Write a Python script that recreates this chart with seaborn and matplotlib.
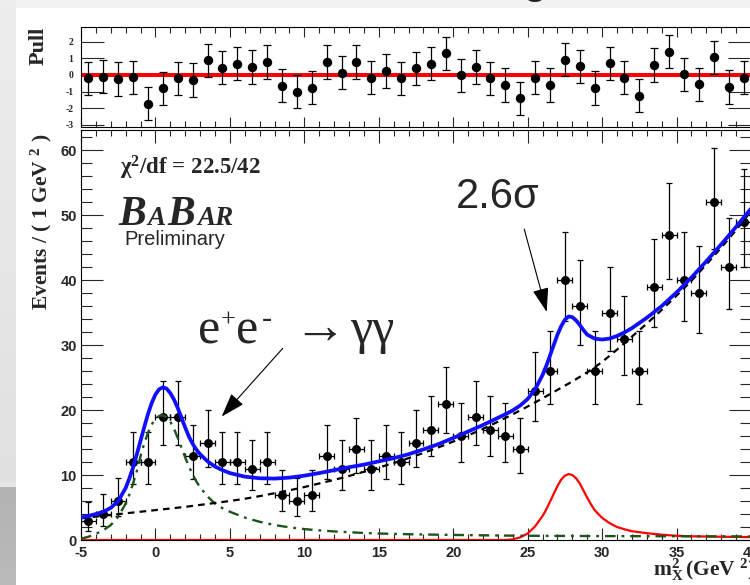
import numpy as np
import pandas as pd
import matplotlib
matplotlib.use("Agg")
import matplotlib.pyplot as plt
from matplotlib.patches import Rectangle
from matplotlib.ticker import MultipleLocator
import seaborn as sns

# ---------------- data ----------------
bin_edges = [-5, 40]
bin_centers = [-4.5, -3.5, -2.5, -1.5, -0.5, 0.5, 1.5, 2.5, 3.5, 4.5, 5.5, 6.5, 7.5,
               8.5, 9.5, 10.5, 11.5, 12.5, 13.5, 14.5, 15.5, 16.5, 17.5, 18.5, 19.5,
               20.5, 21.5, 22.5, 23.5, 24.5, 25.5, 26.5, 27.5, 28.5, 29.5, 30.5, 31.5,
               32.5, 33.5, 34.5, 35.5, 36.5, 37.5, 38.5, 39.5]
counts = [3, 4, 6, 12, 12, 19, 19, 13, 15, 12, 12, 11, 12, 7, 6, 7, 13, 11, 14, 11,
          13, 12, 15, 17, 21, 16, 19, 17, 16, 14, 23, 26, 40, 36, 26, 35, 31, 26, 39,
          47, 40, 38, 52, 42, 49]
pulls = [-0.2, -0.1, -0.24, -0.14, -1.72, -0.8, -0.2, -0.3, 0.88, 0.44, 0.68, 0.48,
         0.78, -0.64, -1.0, -0.76, 0.78, 0.14, 0.78, -0.16, 0.24, -0.2, 0.4, 0.68,
         1.3, -0.02, 0.48, -0.2, -0.6, -1.4, -0.16, -0.6, 0.92, 0.52, -0.78, 0.7,
         -0.16, -1.24, 0.6, 1.4, 0.04, -0.56, 1.06, -0.72, -0.16]

# fitted model components
bkg_x = list(range(-5, 41))
bkg_y = [3.35, 3.6, 3.85, 4.1, 4.35, 4.6, 4.85, 5.1, 5.4, 5.7, 6.0, 6.35, 6.75, 7.2,
         7.65, 8.15, 8.7, 9.25, 9.85, 10.5, 11.15, 11.85, 12.6, 13.4, 14.25, 15.15,
         16.1, 17.1, 18.2, 19.35, 20.55, 21.8, 23.1, 24.4, 25.8, 27.4, 29.3, 31.3,
         33.3, 35.4, 37.6, 39.9, 42.4, 45.0, 47.7, 50.6]

peak_x = [-5, -4.5, -4, -3.5, -3, -2.5, -2, -1.75, -1.5, -1.25, -1, -0.75, -0.5,
          -0.25, 0, 0.25, 0.5, 0.75, 1, 1.25, 1.5, 1.75, 2, 2.25, 2.5, 2.75, 3, 3.5,
          4, 4.5, 5, 6, 7, 8, 9, 10, 11, 12, 13, 14, 15, 16, 17, 18, 20, 22, 24, 26,
          28, 30, 32, 34, 36, 38, 40]
peak_y = [0.2, 0.5, 0.95, 1.5, 2.3, 3.6, 5.6, 7.0, 8.7, 10.6, 12.9, 14.9, 16.5,
          17.8, 18.6, 19.1, 19.2, 18.9, 18.2, 17.1, 15.7, 14.2, 12.7, 11.3, 10.1,
          9.0, 8.1, 6.7, 5.6, 4.9, 4.35, 3.45, 2.8, 2.3, 1.95, 1.68, 1.48, 1.32,
          1.2, 1.08, 1.0, 0.94, 0.89, 0.85, 0.78, 0.72, 0.67, 0.64, 0.62, 0.6,
          0.59, 0.58, 0.57, 0.56, 0.55]

sig_x = [-5, 23.5, 24, 24.5, 25, 25.5, 26, 26.25, 26.5, 26.75, 27, 27.25, 27.5,
         27.75, 28, 28.25, 28.5, 28.75, 29, 29.25, 29.5, 30, 30.5, 31, 31.5, 32,
         33, 34, 35, 36, 38, 40]
sig_y = [0, 0, 0.1, 0.4, 1.0, 2.1, 3.7, 4.7, 5.9, 7.1, 8.3, 9.3, 9.9, 10.15, 10.0,
         9.5, 8.7, 7.6, 6.5, 5.5, 4.6, 3.4, 2.6, 2.0, 1.65, 1.35, 1.05, 0.82, 0.65,
         0.57, 0.5, 0.45]

tot_x = [-5, -4.5, -4, -3.5, -3, -2.5, -2, -1.75, -1.5, -1.25, -1, -0.75, -0.5,
         -0.25, 0, 0.25, 0.5, 0.75, 1, 1.25, 1.5, 1.75, 2, 2.25, 2.5, 2.75, 3, 3.5,
         4, 4.5, 5, 6, 7, 8, 9, 10, 11, 12, 13, 14, 15, 16, 17, 18, 19, 20, 21, 22,
         23, 23.5, 24, 24.5, 25, 25.5, 26, 26.25, 26.5, 26.75, 27, 27.25, 27.5,
         27.75, 28, 28.25, 28.5, 28.75, 29, 29.5, 30, 30.5, 31, 31.5, 32, 33, 34,
         35, 36, 37, 38, 39, 40]
tot_y = [3.45, 3.7, 4.0, 4.35, 4.95, 6.0, 8.0, 9.5, 11.2, 13.2, 15.3, 17.4, 19.4,
         21.1, 22.4, 23.2, 23.5, 23.3, 22.6, 21.6, 20.3, 18.8, 17.3, 15.9, 14.8,
         13.9, 13.2, 12.1, 11.3, 10.75, 10.3, 9.75, 9.5, 9.45, 9.6, 9.9, 10.3,
         10.75, 11.2, 11.6, 12.1, 12.6, 13.2, 13.95, 14.75, 15.7, 16.7, 17.7, 18.8,
         19.35, 19.95, 20.7, 21.7, 23.2, 25.4, 26.8, 28.4, 30.0, 31.6, 32.9, 33.9,
         34.4, 34.3, 33.8, 33.1, 32.3, 31.6, 31.0, 30.85, 31.0, 31.4, 31.95, 32.6,
         34.2, 36.0, 38.1, 40.4, 42.9, 45.5, 48.2, 51.0]

# ---------------- style ----------------
sns.set_theme(style="ticks")
plt.rcParams.update({
    "font.family": ["Liberation Sans", "DejaVu Sans"],
    "font.weight": "bold",
    "axes.unicode_minus": False,
    "mathtext.fontset": "custom",
    "mathtext.rm": "Liberation Serif",
    "mathtext.bf": "Liberation Serif:bold",
    "mathtext.it": "Liberation Serif:italic",
    "axes.linewidth": 0.8,
    "axes.edgecolor": "black",
})

W, H = 750, 585


def fx(px):
    return px / W


def fy(py):
    return 1 - py / H


fig = plt.figure(figsize=(7.5, 5.85), dpi=100, facecolor="#f2f2f4")
fig.patches.append(Rectangle((fx(16), 0), 1, fy(8), transform=fig.transFigure,
                             facecolor="white", edgecolor="none", zorder=-10))

# grey slide margin on the left
strip = fig.add_axes([0, 0, fx(16), 1], zorder=-5)
grad = np.ones((H, 16, 3))
rows = np.arange(H)
upper = rows < 484
grad[upper] *= (0.93 - 0.05 * rows[upper] / 484)[:, None, None]
grad[~upper] *= (0.70 + 0.03 * (rows[~upper] - 484) / 100)[:, None, None]
grad[482:487] = 0.9
strip.imshow(grad, aspect="auto", extent=[0, 1, 0, 1])
strip.axis("off")

ax_pull = fig.add_axes([fx(81), fy(127), fx(751) - fx(81), fy(27) - fy(127)])
ax = fig.add_axes([fx(81), fy(540), fx(751) - fx(81), fy(130) - fy(540)])
for a in (ax, ax_pull):
    a.set_facecolor("white")

df = pd.DataFrame({"x": bin_centers, "n": counts, "pull": pulls})
n = df["n"].to_numpy(dtype=float)
# 68% Poisson intervals on the counts
lo = n * (1 - 1 / (9 * n) - 1 / (3 * np.sqrt(n))) ** 3
hi = (n + 1) * (1 - 1 / (9 * (n + 1)) + 1 / (3 * np.sqrt(n + 1))) ** 3
df["elo"] = n - lo
df["ehi"] = hi - n

# ---------------- pull panel ----------------
ax_pull.axhline(0, color="#ff0000", lw=2.9, zorder=2)
ax_pull.errorbar(df["x"], df["pull"], yerr=1.0, fmt="none", ecolor="black",
                 elinewidth=0.9, capsize=2.6, capthick=0.9, zorder=3)
sns.scatterplot(data=df, x="x", y="pull", ax=ax_pull, color="black", s=46,
                edgecolor="black", linewidth=0, zorder=4, legend=False)
ax_pull.set_xlim(bin_edges)
ax_pull.set_ylim(-3.12, 2.88)
ax_pull.set_xticks(range(-5, 41, 5))
ax_pull.xaxis.set_minor_locator(MultipleLocator(1))
ax_pull.set_yticks([-3, -2, -1, 0, 1, 2])
ax_pull.set_yticklabels(["-3", "-2", "-1", "0", "1", "2"])
ax_pull.tick_params(axis="x", which="both", direction="in", top=True, bottom=True,
                    labelbottom=False, width=0.8)
ax_pull.tick_params(axis="x", which="major", length=7)
ax_pull.tick_params(axis="x", which="minor", length=4)
ax_pull.tick_params(axis="y", which="major", direction="in", left=True, right=True,
                    length=16.5, width=0.8, labelsize=7, pad=5.5,
                    labelfontfamily="Liberation Serif")
ax_pull.set_xlabel("")
ax_pull.set_ylabel("")

# ---------------- main panel ----------------
ax.errorbar(df["x"], df["n"], yerr=[df["elo"], df["ehi"]], xerr=0.5, fmt="none",
            ecolor="black", elinewidth=0.9, capsize=2.4, capthick=0.9, zorder=3)
sns.scatterplot(data=df, x="x", y="n", ax=ax, color="black", s=42,
                edgecolor="black", linewidth=0, zorder=4, legend=False)

sns.lineplot(x=sig_x, y=sig_y, ax=ax, color="#ff0000", lw=1.6, sort=False,
             estimator=None, zorder=5)
sns.lineplot(x=peak_x, y=peak_y, ax=ax, color="#1b551b", lw=1.7, sort=False,
             estimator=None, zorder=5, linestyle=(0, (4.5, 2.5, 1.2, 2.5)))
sns.lineplot(x=bkg_x, y=bkg_y, ax=ax, color="black", lw=1.6, sort=False,
             estimator=None, zorder=5, linestyle=(0, (3.0, 2.3)))
sns.lineplot(x=tot_x, y=tot_y, ax=ax, color="#1010ff", lw=2.7, sort=False,
             estimator=None, zorder=6)

ax.set_xlim(bin_edges)
ax.set_ylim(0, 63.1)
ax.set_xticks(range(-5, 41, 5))
ax.xaxis.set_minor_locator(MultipleLocator(1))
ax.set_yticks(range(0, 61, 10))
ax.yaxis.set_minor_locator(MultipleLocator(2))
ax.tick_params(which="both", direction="in", top=True, right=True, width=0.8,
               labelsize=10.5)
ax.tick_params(axis="x", which="major", length=9, pad=4)
ax.tick_params(axis="x", which="minor", length=4.5)
ax.tick_params(axis="y", which="major", length=16, pad=3)
ax.tick_params(axis="y", which="minor", length=8)
ax.set_xlabel("")
ax.set_ylabel("")

# annotation arrows
arrow_kw = dict(arrowstyle="-|>,head_length=1.5,head_width=0.5", lw=0.8,
                color="black", mutation_scale=10, shrinkA=0, shrinkB=0)
ax.annotate("", xy=(4.45, 19.0), xytext=(8.55, 29.5), arrowprops=arrow_kw, zorder=7)
ax.annotate("", xy=(26.28, 35.1), xytext=(24.77, 47.85), arrowprops=arrow_kw, zorder=7)

# ---------------- texts ----------------
serif = ["Liberation Serif", "DejaVu Serif"]
fig.text(fx(39), fy(27), "Pull", rotation=90, ha="center", va="top",
         family=serif, weight="bold", size=16)
fig.text(fx(41), fy(134), "Events / ( 1 GeV $^{\\mathbf{2}}$ )", rotation=90,
         ha="center", va="top", family=serif, weight="bold", size=15.5)
fig.text(fx(120), fy(174), "χ$^{\\mathbf{2}}$/df = 22.5/42", ha="left",
         va="baseline", family=serif, weight="bold", size=16.5)

for txt, xp, sz in [("B", 118, 30), ("A", 147, 19.5), ("B", 167, 30), ("AR", 197, 19.5)]:
    fig.text(fx(xp), fy(225), txt, ha="left", va="baseline", family=serif,
             weight="bold", style="italic", size=sz)
fig.text(fx(124), fy(245), "Preliminary", ha="left", va="baseline",
         family="Liberation Sans", weight="normal", size=14.5)

# process label, set piece by piece so the charges sit tight on the electrons
for txt, xp, yp, sz in [("e", 198, 343, 36), ("+", 221, 327, 19), ("e", 236, 343, 36),
                        ("-", 262, 327, 22), ("→", 293, 343, 38), ("γγ", 350, 343, 36)]:
    fig.text(fx(xp), fy(yp), txt, ha="left", va="baseline", family=serif,
             weight="normal", size=sz)
fig.text(fx(456), fy(208), "2.6σ", ha="left", va="baseline",
         family="Liberation Sans", weight="normal", size=30)

fig.text(fx(653), fy(576), "$\\mathbf{m}_{\\mathbf{X}}^{\\mathbf{2}}\\,$(GeV $^{\\mathbf{2}}$)",
         ha="left", va="baseline", family=serif, weight="bold", size=15.5)

# fragment of the slide heading above the plot
fig.text(fx(535), 1 + 7.5 / H, "g", ha="center", va="baseline",
         family="Liberation Sans", weight="normal", size=32, color="#222222")

fig.savefig("out.png", dpi=100, facecolor=fig.get_facecolor())
